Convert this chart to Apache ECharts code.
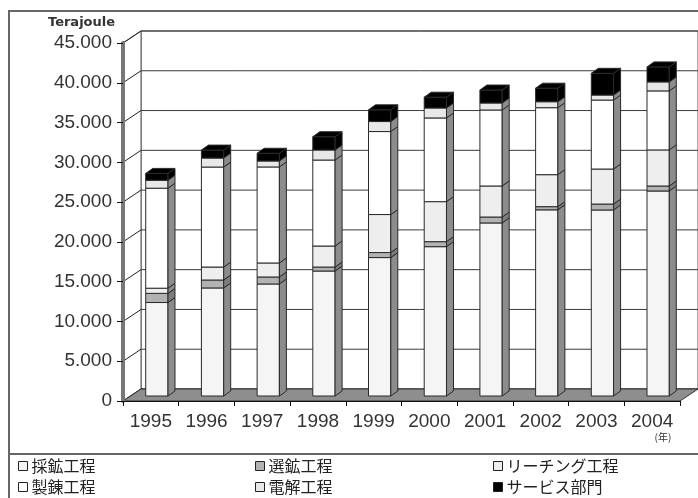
<!DOCTYPE html>
<html><head><meta charset="utf-8">
<script src="https://cdn.jsdelivr.net/npm/echarts@6/dist/echarts.min.js"></script>
<style>html,body{margin:0;padding:0;background:#fff}#c{width:698px;height:498px}</style>
</head><body><div id="c"></div>
<script>
// ---- data (Terajoule) ----
const years = ['1995','1996','1997','1998','1999','2000','2001','2002','2003','2004'];
const yTicks = [0,5000,10000,15000,20000,25000,30000,35000,40000,45000];
const seriesNames = ['採鉱工程','選鉱工程','リーチング工程','製錬工程','電解工程','サービス部門'];
const mining       = [11750,13580,14080,15710,17400,18770,21750,23400,23380,25770];
const concentrate  = [1150,1000,880,500,630,630,750,400,750,630];
const leaching     = [650,1630,1760,2640,4780,5030,3900,4020,4400,4530];
const smelting     = [12570,12570,12070,10810,10430,10520,9550,8420,8670,7420];
const electrolysis = [1000,1130,750,1260,1260,1250,880,750,630,1130];
const services     = [860,1000,970,1670,1470,1360,1630,1700,2730,1885];
const seriesValues = [mining, concentrate, leaching, smelting, electrolysis, services];

// ---- styles ----
const faceColors = ['#f5f5f5','#b2b2b2','#eeeeee','#ffffff','#e8e8e8','#000000'];
const sideColors = ['#8c8c8c','#7c7c7c','#8c8c8c','#8c8c8c','#8c8c8c','#000000'];
const WALL_DX = 18, WALL_DY = -12;
const BAR_OX = 6, BAR_OY = -5, BAR_DX = 7, BAR_DY = -5;
const EDGE = '#2a2a2a';

function fmt(v){ return String(v).replace(/\B(?=(\d{3})+(?!\d))/g, '.'); }

const wallSeries = {
  type: 'custom', name: 'walls', coordinateSystem: 'cartesian2d', z: 1, clip: false, silent: true,
  data: [[0, 0]],
  renderItem: function (params, api) {
    const cs = params.coordSys;
    const L = cs.x, T = cs.y, R = cs.x + cs.width, B = cs.y + cs.height;
    const ch = [];
    ch.push({type:'rect', shape:{x:L+WALL_DX, y:T+WALL_DY, width:cs.width, height:cs.height},
             style:{fill:'#fff', stroke:'#555', lineWidth:1}});
    ch.push({type:'polygon', shape:{points:[[L,T],[L+WALL_DX,T+WALL_DY],[L+WALL_DX,B+WALL_DY],[L,B]]},
             style:{fill:'#fff', stroke:'#555', lineWidth:1}});
    yTicks.forEach(function (v) {
      const y = api.coord([0, v])[1];
      ch.push({type:'line', shape:{x1:L+WALL_DX, y1:y+WALL_DY, x2:R+WALL_DX, y2:y+WALL_DY},
               style:{stroke:'#3a3a3a', lineWidth:1}});
      ch.push({type:'line', shape:{x1:L, y1:y, x2:L+WALL_DX, y2:y+WALL_DY},
               style:{stroke:'#222', lineWidth:1}});
    });
    ch.push({type:'polygon', shape:{points:[[L,B],[R,B],[R+WALL_DX,B+WALL_DY],[L+WALL_DX,B+WALL_DY]]},
             style:{fill:'#8e8e8e', stroke:'#333', lineWidth:1}});
    return {type:'group', children: ch};
  }
};

const cum = years.map(function(){ return 0; });
const barSeries = seriesValues.map(function (vals, s) {
  const data = vals.map(function (v, i) { const lo = cum[i]; cum[i] += v; return [i, lo, cum[i]]; });
  const isTop = s === seriesValues.length - 1;
  return {
    type: 'custom', name: seriesNames[s], coordinateSystem: 'cartesian2d', z: 10, clip: false,
    encode: {x: 0, y: [1, 2]},
    itemStyle: {color: faceColors[s], borderColor: EDGE, borderWidth: 1},
    data: data,
    renderItem: function (params, api) {
      const i = api.value(0), lo = api.value(1), hi = api.value(2);
      const pLo = api.coord([i, lo]), pHi = api.coord([i, hi]);
      const bw = api.size([1, 0])[0] * 0.4;
      const x0 = pLo[0] - bw / 2 + BAR_OX, x1 = x0 + bw;
      const yb = pLo[1] + BAR_OY, yt = pHi[1] + BAR_OY;
      const ch = [
        {type:'rect', shape:{x:x0, y:yt, width:bw, height:yb-yt}, style:{fill:faceColors[s], stroke:EDGE, lineWidth:1}},
        {type:'polygon', shape:{points:[[x1,yb],[x1,yt],[x1+BAR_DX,yt+BAR_DY],[x1+BAR_DX,yb+BAR_DY]]},
         style:{fill:sideColors[s], stroke:EDGE, lineWidth:1}}
      ];
      if (isTop) {
        ch.push({type:'polygon', shape:{points:[[x0,yt],[x1,yt],[x1+BAR_DX,yt+BAR_DY],[x0+BAR_DX,yt+BAR_DY]]},
                 style:{fill:'#000', stroke:EDGE, lineWidth:1}});
      }
      return {type:'group', children: ch};
    }
  };
});

const legendPos = [[18,458],[255,458],[493,458],[18,479],[255,479],[493,479]];
const legends = seriesNames.map(function (n, s) {
  return {
    data: [{name: n, itemStyle: {color: faceColors[s], borderColor: '#222', borderWidth: 1}}],
    left: legendPos[s][0], top: legendPos[s][1], padding: 0, icon: 'rect',
    itemWidth: 9, itemHeight: 9, itemGap: 0, selectedMode: false,
    textStyle: {fontFamily: '"Noto Sans CJK JP"', fontSize: 16, color: '#222', padding: [0,0,0,-1]}
  };
});

const chart = echarts.init(document.getElementById('c'), null, {renderer: 'canvas'});
chart.setOption({
  animation: false,
  backgroundColor: '#fff',
  grid: {left: 123, top: 43, width: 557, height: 358, containLabel: false},
  xAxis: {
    type: 'category', data: years, z: 5,
    axisLine: {show: true, lineStyle: {color: '#111', width: 1}},
    axisTick: {show: true, length: 5, lineStyle: {color: '#111'}},
    axisLabel: {fontFamily: '"Liberation Sans", Arial', fontSize: 19, color: '#333', margin: 11},
    splitLine: {show: false}
  },
  yAxis: {
    type: 'value', min: 0, max: 45000, interval: 5000, z: 5,
    axisLine: {show: true, lineStyle: {color: '#777', width: 4}},
    axisTick: {show: true, length: 6, lineStyle: {color: '#111'}},
    axisLabel: {formatter: fmt, fontFamily: '"Liberation Sans", Arial', fontSize: 19, color: '#333', margin: 11},
    splitLine: {show: false}
  },
  legend: legends,
  graphic: [
    {type:'rect', shape:{x:9, y:11, width:720, height:520}, style:{fill:'none', stroke:'#666', lineWidth:2}, silent:true},
    {type:'line', shape:{x1:9, y1:454, x2:698, y2:454}, style:{stroke:'#666', lineWidth:2}, silent:true},
    {type:'text', x:48, y:23, style:{text:'Terajoule', font:'bold 13px "DejaVu Sans"', fill:'#333', verticalAlign:'middle'}},
    {type:'text', x:663, y:437, style:{text:'(年)', font:'10px "Noto Sans CJK JP"', fill:'#333', align:'center', verticalAlign:'middle'}}
  ],
  series: [wallSeries].concat(barSeries)
});
</script></body></html>
